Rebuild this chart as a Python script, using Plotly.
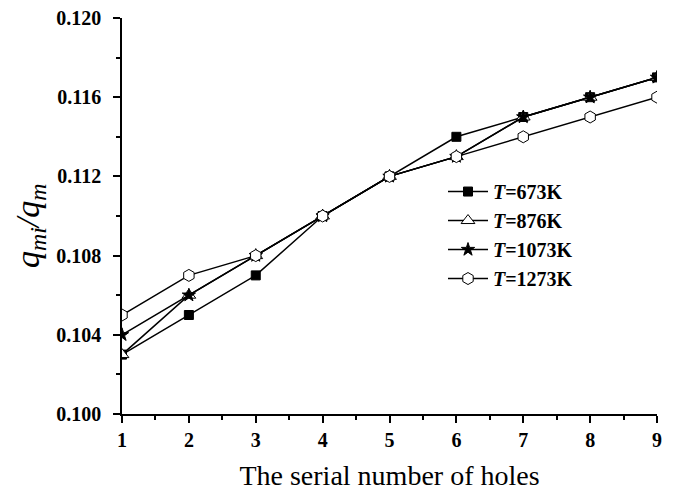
import plotly.graph_objects as go

holes = [1, 2, 3, 4, 5, 6, 7, 8, 9]
t673 = [0.103, 0.105, 0.107, 0.110, 0.112, 0.114, 0.115, 0.116, 0.117]
t876 = [0.103, 0.106, 0.108, 0.110, 0.112, 0.113, 0.115, 0.116, 0.117]
t1073 = [0.104, 0.106, 0.108, 0.110, 0.112, 0.113, 0.115, 0.116, 0.117]
t1273 = [0.105, 0.107, 0.108, 0.110, 0.112, 0.113, 0.114, 0.115, 0.116]
names = ["<b><i>T</i>=673K</b>", "<b><i>T</i>=876K</b>", "<b><i>T</i>=1073K</b>", "<b><i>T</i>=1273K</b>"]
y_ticks = [0.100, 0.104, 0.108, 0.112, 0.116, 0.120]
y_tick_labels = ["0.100", "0.104", "0.108", "0.112", "0.116", "0.120"]

series = [t673, t876, t1073, t1273]
symbols = ["square", "triangle-up", "star", "hexagon"]
fills = ["black", "white", "black", "white"]
sizes = [9, 12, 10, 12]

fig = go.Figure()
for ys, nm, sym, fc, sz in zip(series, names, symbols, fills, sizes):
    fig.add_trace(go.Scatter(
        x=holes, y=ys, name=nm, mode="lines+markers",
        line=dict(color="black", width=1.5),
        marker=dict(symbol=sym, size=sz, color=fc, line=dict(color="black", width=1)),
    ))

font_family = "Liberation Serif"
ytitle = "<i>q<sub>mi</sub>/q<sub>m</sub></i>"
fig.add_annotation(text=ytitle, textangle=-90,
                   xref="paper", yref="paper", x=-92 / 535, y=188 / 396,
                   xanchor="center", yanchor="middle", showarrow=False,
                   font=dict(size=34, family=font_family, color="black"))
fig.update_layout(
    width=674, height=494,
    margin=dict(l=122, r=17, t=18, b=80, autoexpand=False),
    paper_bgcolor="white", plot_bgcolor="white",
    font=dict(family=font_family, color="black"),
    showlegend=True,
    legend=dict(x=0.6, y=0.611, xanchor="left", yanchor="top",
                font=dict(family=font_family, size=20, color="black"),
                bgcolor="rgba(0,0,0,0)", tracegroupgap=0, itemwidth=40),
    xaxis=dict(range=[1, 9], tickmode="array", tickvals=holes,
               ticktext=[f"<b>{h}</b>" for h in holes],
               ticks="outside", ticklen=7, tickwidth=1.5, tickcolor="black",
               minor=dict(dtick=0.5, tick0=1, ticks="outside", ticklen=4, tickwidth=1.5, tickcolor="black"),
               showline=True, linecolor="black", linewidth=1.5, showgrid=False, zeroline=False,
               tickfont=dict(size=20, family=font_family),
               title=dict(text="The serial number of holes", font=dict(size=28, family=font_family), standoff=16)),
    yaxis=dict(range=[0.100, 0.120], tickmode="array", tickvals=y_ticks,
               ticktext=[f"<b>{t}</b>" for t in y_tick_labels],
               ticks="outside", ticklen=7, tickwidth=1.5, tickcolor="black", ticklabelstandoff=8,
               minor=dict(dtick=0.002, tick0=0.1, ticks="outside", ticklen=4, tickwidth=1.5, tickcolor="black"),
               showline=True, linecolor="black", linewidth=1.5, showgrid=False, zeroline=False,
               tickfont=dict(size=20, family=font_family)),
)
fig.write_html("out.html", config={"displayModeBar": False},
               post_script="document.body.style.margin='0';document.body.style.overflow='hidden';")
